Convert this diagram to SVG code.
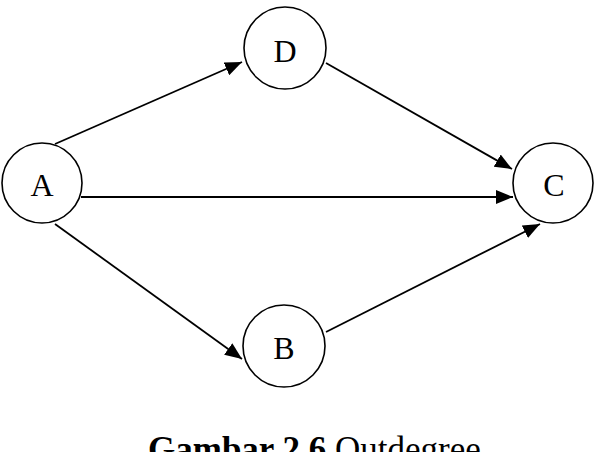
<svg xmlns="http://www.w3.org/2000/svg" width="594" height="452" viewBox="0 0 594 452">
<style>
.node circle{fill:#fff;stroke:#000;stroke-width:1.6}
.node text{font-family:"Liberation Serif","Times New Roman",serif;font-size:32px;text-anchor:middle;fill:#000}
.edge{stroke:#000;stroke-width:1.8;fill:none;marker-end:url(#arr)}
.cap{font-family:"Liberation Serif","Times New Roman",serif;font-size:35px;fill:#000}
</style>
<defs>
<marker id="arr" markerUnits="userSpaceOnUse" markerWidth="18" markerHeight="14" refX="17" refY="7" orient="auto">
<path d="M0,0 L17,7 L0,14 z" fill="#000"/>
</marker>
</defs>
<rect width="594" height="452" fill="#fff"/>
<g id="connectors">
<line class="edge" x1="55" y1="144" x2="242" y2="62"/>
<line class="edge" x1="326" y1="63" x2="512" y2="169"/>
<line class="edge" x1="81" y1="197" x2="513" y2="197"/>
<line class="edge" x1="55" y1="224" x2="242" y2="359"/>
<line class="edge" x1="326" y1="332" x2="540" y2="224"/>
</g>
<g id="node-D" class="node"><circle cx="285" cy="48" r="41"/><text x="285" y="62">D</text></g>
<g id="node-A" class="node"><circle cx="42" cy="183" r="40"/><text x="42" y="196">A</text></g>
<g id="node-C" class="node"><circle cx="553" cy="183" r="40"/><text x="554" y="196">C</text></g>
<g id="node-B" class="node"><circle cx="284" cy="346" r="41"/><text x="284" y="359">B</text></g>
<text class="cap" x="148" y="461"><tspan font-weight="bold">Gambar 2.6</tspan> Outdegree</text>
</svg>
